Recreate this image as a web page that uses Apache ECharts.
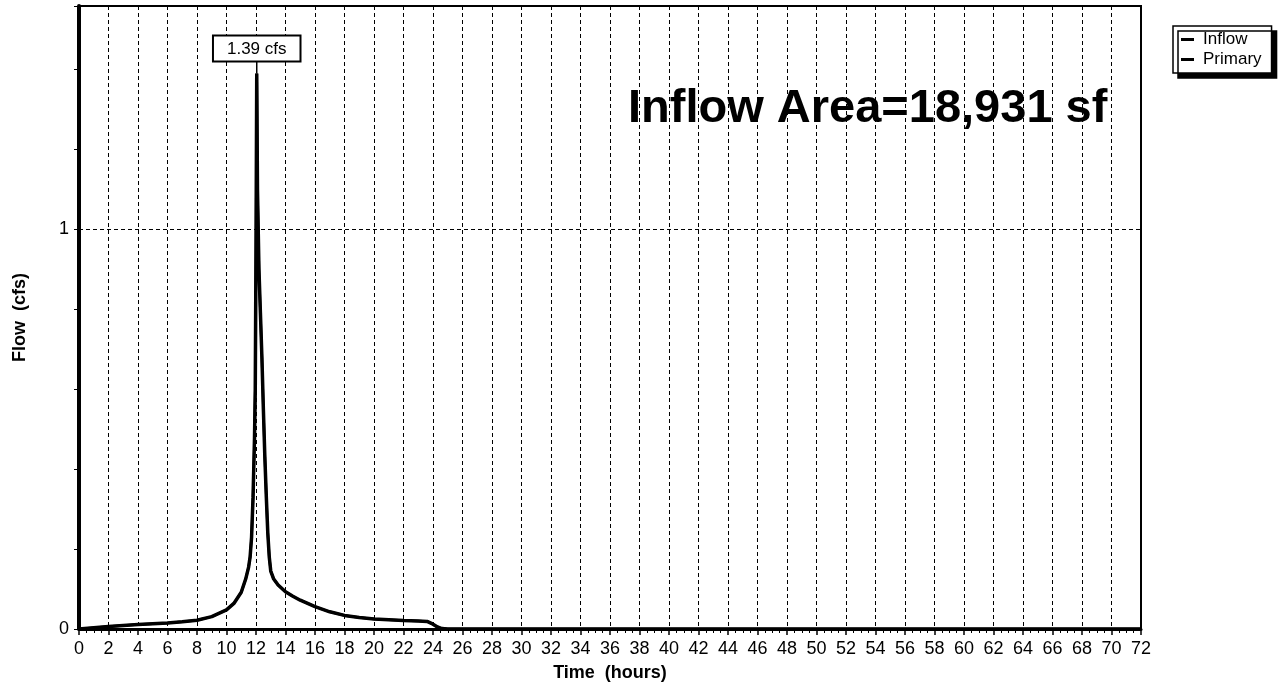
<!DOCTYPE html>
<html>
<head>
<meta charset="utf-8">
<title>Hydrograph</title>
<script src="https://cdn.jsdelivr.net/npm/echarts@6/dist/echarts.min.js"></script>
<style>
  html, body { margin: 0; padding: 0; background: #fff; }
  #chart { width: 1283px; height: 683px; }
</style>
</head>
<body>
<div id="chart"></div>
<script>
// Time (hours) of each hydrograph ordinate
const timeHours = [0, 1, 2, 3, 4, 5, 6, 7, 8, 9, 10, 10.5, 11, 11.3, 11.5, 11.6, 11.7, 11.8, 11.9, 11.95,
  12.0, 12.05, 12.1, 12.2, 12.3, 12.4, 12.5, 12.6, 12.7, 12.8, 12.9, 13.0, 13.2, 13.5, 14, 14.5, 15,
  16, 17, 18, 19, 20, 21, 22, 23, 23.6, 24, 24.3, 24.6, 25, 30, 40, 50, 60, 72];
// Inflow (cfs)
const inflowCfs = [0, 0.003, 0.006, 0.009, 0.011, 0.013, 0.015, 0.018, 0.022, 0.031, 0.048, 0.064, 0.092, 0.125, 0.155, 0.18, 0.23, 0.33, 0.48, 0.6,
  0.95, 1.39, 1.1, 0.9, 0.79, 0.68, 0.55, 0.43, 0.33, 0.24, 0.18, 0.145, 0.125, 0.11, 0.093, 0.082, 0.072,
  0.056, 0.043, 0.034, 0.029, 0.025, 0.023, 0.021, 0.020, 0.019, 0.012, 0.005, 0.001, 0, 0, 0, 0, 0, 0];
// Primary outflow (cfs) - passes the inflow straight through
const primaryCfs = [0, 0.003, 0.006, 0.009, 0.011, 0.013, 0.015, 0.018, 0.022, 0.031, 0.048, 0.064, 0.092, 0.125, 0.155, 0.18, 0.23, 0.33, 0.48, 0.6,
  0.95, 1.39, 1.1, 0.9, 0.79, 0.68, 0.55, 0.43, 0.33, 0.24, 0.18, 0.145, 0.125, 0.11, 0.093, 0.082, 0.072,
  0.056, 0.043, 0.034, 0.029, 0.025, 0.023, 0.021, 0.020, 0.019, 0.012, 0.005, 0.001, 0, 0, 0, 0, 0, 0];

const peakTime = 12.05;
const peakFlow = 1.39;
const labeledFlowTicks = [0, 1];
const flowGridLines = [1];
const seriesNames = ['Inflow', 'Primary'];
const areaTitle = 'Inflow Area=18,931 sf';

const FONT = '"Liberation Sans", Arial, Helvetica, sans-serif';

const zip = (xs, ys) => xs.map((x, i) => [x, ys[i]]);

const chart = echarts.init(document.getElementById('chart'), null, { renderer: 'canvas' });

chart.setOption({
  animation: false,
  backgroundColor: '#fff',
  textStyle: { fontFamily: FONT, color: '#000' },
  grid: {
    left: 79, right: 142, top: 6, bottom: 54,
    outerBoundsMode: 'none',
    containLabel: false,
    show: true, borderColor: '#000', borderWidth: 2, backgroundColor: 'transparent'
  },
  legend: {
    data: seriesNames,
    orient: 'vertical',
    left: 1173, top: 26,
    icon: 'rect',
    itemWidth: 13, itemHeight: 3, itemGap: 3,
    padding: [5, 10, 5, 8],
    backgroundColor: '#fff',
    borderColor: '#000', borderWidth: 1.5,
    shadowColor: '#000', shadowBlur: 0.01, shadowOffsetX: 5, shadowOffsetY: 5,
    textStyle: { fontFamily: FONT, fontSize: 17, color: '#000', padding: [0, 0, 0, 4] }
  },
  xAxis: {
    type: 'value',
    min: 0, max: 72, interval: 2,
    name: 'Time  (hours)',
    nameLocation: 'middle', nameGap: 35,
    nameTextStyle: { fontFamily: FONT, fontSize: 18, fontWeight: 'bold', color: '#000' },
    axisLine: { show: true, lineStyle: { color: '#000', width: 3 } },
    axisTick: { show: true, length: 6, lineStyle: { color: '#000', width: 1.5 } },
    minorTick: { show: true, splitNumber: 4, length: 4, lineStyle: { color: '#000', width: 1 } },
    axisLabel: { fontFamily: FONT, fontSize: 18, color: '#000', margin: 11 },
    splitLine: { show: true, lineStyle: { color: '#000', width: 1, type: [4, 3] } }
  },
  yAxis: {
    type: 'value',
    min: 0, max: 1.559, interval: 0.2,
    name: 'Flow  (cfs)',
    nameLocation: 'middle', nameGap: 50,
    nameTextStyle: { fontFamily: FONT, fontSize: 18, fontWeight: 'bold', color: '#000' },
    axisLine: { show: true, lineStyle: { color: '#000', width: 4 } },
    axisTick: { show: true, length: 5, lineStyle: { color: '#000', width: 1 } },
    axisLabel: {
      fontFamily: FONT, fontSize: 18, color: '#000', margin: 10,
      formatter: v => (labeledFlowTicks.some(t => Math.abs(t - v) < 1e-9) ? String(Math.round(v)) : '')
    },
    splitLine: { show: false }
  },
  series: [
    {
      name: seriesNames[1],
      type: 'line',
      data: zip(timeHours, primaryCfs),
      showSymbol: false,
      symbol: 'none',
      lineStyle: { color: '#000', width: 2.5 },
      itemStyle: { color: '#000' },
      z: 3
    },
    {
      name: seriesNames[0],
      type: 'line',
      data: zip(timeHours, inflowCfs),
      showSymbol: false,
      symbol: 'none',
      lineStyle: { color: '#000', width: 3.5 },
      itemStyle: { color: '#000' },
      z: 4,
      markLine: {
        silent: true,
        symbol: 'none',
        label: { show: false },
        lineStyle: { color: '#000', width: 1, type: [4, 3] },
        data: flowGridLines.map(v => ({ yAxis: v }))
      },
      markPoint: {
        silent: true,
        symbol: 'rect',
        symbolSize: [1.5, 13],
        symbolOffset: [0, -6.5],
        itemStyle: { color: '#000' },
        label: {
          show: true,
          position: 'top',
          distance: 0,
          formatter: () => peakFlow.toFixed(2) + ' cfs',
          fontFamily: FONT, fontSize: 17, color: '#000',
          backgroundColor: '#fff',
          borderColor: '#000', borderWidth: 2,
          padding: [4, 13, 3, 13]
        },
        data: [{ coord: [peakTime, peakFlow] }]
      }
    }
  ],
  graphic: [
    {
      type: 'text',
      left: 628, top: 86,
      style: {
        text: areaTitle,
        font: 'bold 47px ' + FONT,
        fill: '#000'
      }
    }
  ]
});
</script>
</body>
</html>
